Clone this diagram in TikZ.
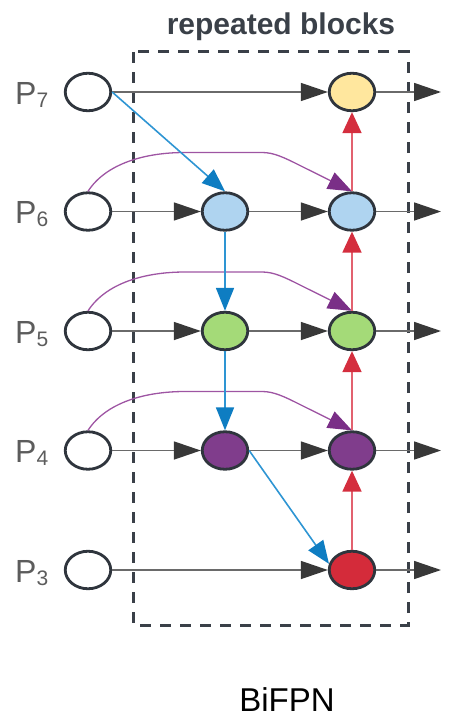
\documentclass[tikz,border=0pt]{standalone}
\usepackage{fontspec}
\setmainfont{Liberation Sans}
\usetikzlibrary{arrows.meta,shapes.geometric}
\definecolor{outl}{HTML}{2F353D}
\definecolor{boxcol}{HTML}{3A4048}
\definecolor{graylin}{HTML}{6A6A6A}
\definecolor{grayhead}{HTML}{383838}
\definecolor{bluelin}{HTML}{2E95D3}
\definecolor{bluehead}{HTML}{0E7DC2}
\definecolor{redlin}{HTML}{E2616F}
\definecolor{redhead}{HTML}{D42E3E}
\definecolor{purplin}{HTML}{9E55A3}
\definecolor{purphead}{HTML}{7A2F87}
\definecolor{cyellow}{HTML}{FFE79E}
\definecolor{cblue}{HTML}{AFD4F0}
\definecolor{cgreen}{HTML}{A4DA78}
\definecolor{cpurple}{HTML}{803D8C}
\definecolor{cred}{HTML}{D42B3A}
\definecolor{labcol}{HTML}{5C5C5C}
\begin{document}
\begin{tikzpicture}[x=1pt,y=-1pt,
  fnode/.style={ellipse, draw=outl, line width=2.8pt, minimum width=45.5pt, minimum height=37.5pt, inner sep=0pt},
  garrow/.style={draw=graylin, line width=1.6pt, -{Triangle[length=27pt,width=18pt,color=grayhead]}},
  barrow/.style={draw=bluelin, line width=1.6pt, -{Triangle[length=23pt,width=18pt,color=bluehead]}},
  rarrow/.style={draw=redlin, line width=1.8pt, -{Triangle[length=21pt,width=19pt,color=redhead]}},
  parrow/.style={draw=purplin, line width=1.3pt, -{Triangle[length=24pt,width=18pt,color=purphead]}},
  plabel/.style={anchor=base west, text=labcol, font=\fontsize{32}{36}\selectfont, inner sep=0pt},
  boxstyle/.style={draw=boxcol, line width=3pt, dash pattern=on 11pt off 9pt}
]
\useasboundingbox (0,0) rectangle (476,717);

% dashed box
\draw[boxstyle] (133,52) rectangle (408,625);
\node[font=\bfseries\fontsize{30}{34}\selectfont, text=boxcol, anchor=base, inner sep=0pt] (title) at (281,35) {repeated blocks};

% rows
\foreach \n/\r in {7/92,6/211.5,5/331,4/450.5,3/570}{
  \node[fnode, fill=white] (in\n) at (88,\r) {};
  \node[plabel] (lab\n) at (15,\r+12) {P\raisebox{-3pt}{\fontsize{21}{24}\selectfont\n}};
}
\node[fnode, fill=cblue]   (m6) at (225,211.5) {};
\node[fnode, fill=cgreen]  (m5) at (225,331) {};
\node[fnode, fill=cpurple] (m4) at (225,450.5) {};

\node[fnode, fill=cyellow] (r7) at (352,92) {};
\node[fnode, fill=cblue]   (r6) at (352,211.5) {};
\node[fnode, fill=cgreen]  (r5) at (352,331) {};
\node[fnode, fill=cpurple] (r4) at (352,450.5) {};
\node[fnode, fill=cred]    (r3) at (352,570) {};

\foreach \n/\r in {7/92,6/211.5,5/331,4/450.5,3/570}{
  \coordinate (o\n) at (441,\r);
}

% gray arrows
\draw[garrow] (in7) -- (r7);
\draw[garrow] (in3) -- (r3);
\foreach \n in {6,5,4}{
  \draw[garrow] (in\n) -- (m\n);
  \draw[garrow] (m\n) -- (r\n);
}
\foreach \n in {7,6,5,4,3}{
  \draw[garrow] (r\n) -- (o\n);
}

% purple skip connections
\foreach \n/\r in {6/211.5,5/331,4/450.5}{
  \draw[parrow] (in\n.north) .. controls (106,\r-48) and (145,\r-59) .. (185,\r-59)
     -- (262,\r-59) .. controls (274,\r-59) and (284,\r-54) .. (300,\r-46) -- (r\n.north);
}

% blue top-down
\draw[barrow] (in7.east) -- (m6.north);
\draw[barrow] (m6) -- (m5);
\draw[barrow] (m5) -- (m4);
\draw[barrow] (m4.east) -- (r3.165);

% red bottom-up
\draw[rarrow] (r3) -- (r4);
\draw[rarrow] (r4) -- (r5);
\draw[rarrow] (r5) -- (r6);
\draw[rarrow] (r6) -- (r7);

\node[font=\fontsize{33}{38}\selectfont, anchor=base, inner sep=0pt] (cap) at (287,711) {BiFPN};
\end{tikzpicture}
\end{document}
